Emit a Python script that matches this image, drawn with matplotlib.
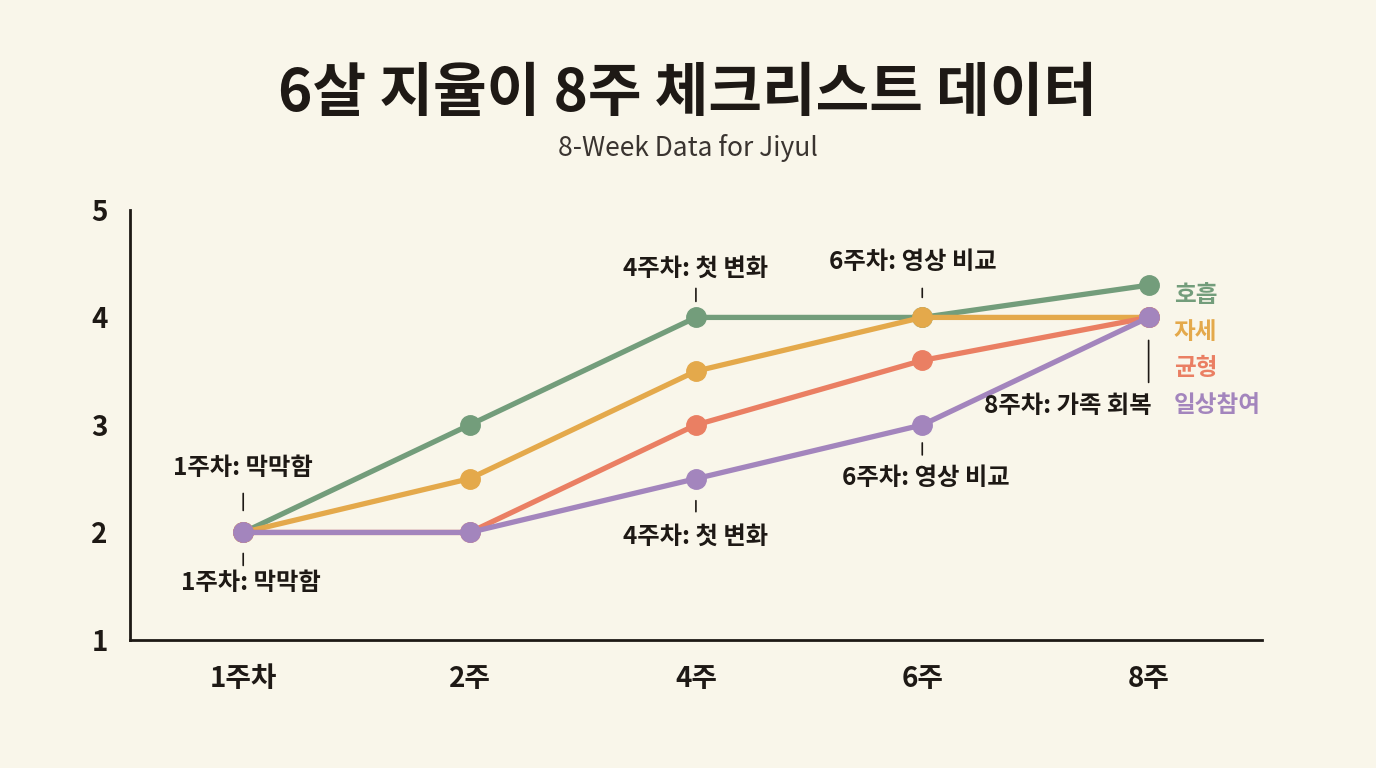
import matplotlib
matplotlib.use("Agg")
import matplotlib.pyplot as plt

plt.rcParams['font.family'] = ['Noto Sans CJK KR', 'DejaVu Sans']

weeks = ["1주차", "2주", "4주", "6주", "8주"]
series_names = ["호흡", "자세", "균형", "일상참여"]
breathing = [2, 3, 4, 4, 4.3]
posture = [2, 2.5, 3.5, 4, 4]
balance = [2, 2, 3, 3.6, 4]
daily = [2, 2, 2.5, 3, 4]
colors = ["#739d7b", "#e4a94b", "#ea7f63", "#a385bd"]

# milestone notes: text, week index, value
note_texts = ["1주차: 막막함", "4주차: 첫 변화", "6주차: 영상 비교",
              "1주차: 막막함", "4주차: 첫 변화", "6주차: 영상 비교"]
note_week = [0, 2, 3, 0, 2, 3]
note_value = [2, 4, 4, 2, 2.5, 3]
# layout in pixels: text dx, text dy, line far end, gap to point
note_layout = [(0, 64, 39, 22), (0, 49, 29, 16), (-9, 55, 29, 20),
               (8, -51, -33, 21), (0, -58, -33, 22), (4, -53, -30, 18)]

bg = "#f9f6ea"
ink = "#1e1915"
PT = 0.72  # px -> pt at 100 dpi

fig = plt.figure(figsize=(13.76, 7.68), dpi=100, facecolor=bg)
ax = fig.add_axes([0.0945, 0.1667, 0.8225, 0.56])
ax.set_facecolor(bg)

x = list(range(len(weeks)))
for vals, c in zip([breathing, posture, balance, daily], colors):
    ax.plot(x, vals, color=c, lw=3.8, marker="o", markersize=14,
            solid_capstyle="round", zorder=3)

ax.set_xlim(-0.5, 4.5)
ax.set_ylim(1, 5)
ax.set_xticks(x)
ax.set_xticklabels(weeks)
ax.set_yticks([1, 2, 3, 4, 5])
ax.tick_params(length=0, labelsize=20, colors=ink)
ax.tick_params(axis="x", pad=18)
ax.tick_params(axis="y", pad=16)
for lab in ax.get_xticklabels() + ax.get_yticklabels():
    lab.set_fontweight("heavy")
for s in ["top", "right"]:
    ax.spines[s].set_visible(False)
for s in ["left", "bottom"]:
    ax.spines[s].set_color(ink)
    ax.spines[s].set_linewidth(2)

ln = dict(arrowstyle="-", color=ink, lw=1.2, shrinkA=0)
for t, i, v, (dx, dy, lend, gap) in zip(note_texts, note_week, note_value, note_layout):
    ax.annotate(t, xy=(i, v), xytext=(dx * PT, dy * PT), textcoords="offset points",
                fontsize=17.5, fontweight="heavy", color=ink, ha="center", va="center")
    ax.annotate("", xy=(i, v), xytext=(0, lend * PT), textcoords="offset points",
                arrowprops=dict(shrinkB=gap * PT, **ln))

# 8주차 note
ax.annotate("8주차: 가족 회복", xy=(4, 4), xytext=(3 * PT, -89 * PT), textcoords="offset points",
            fontsize=17.5, fontweight="heavy", color=ink, ha="right", va="center")
ax.annotate("", xy=(4, 4), xytext=(0, -65 * PT), textcoords="offset points",
            arrowprops=dict(shrinkB=23 * PT, **ln))

# series labels on the right
for k, (name, c) in enumerate(zip(series_names, colors)):
    ax.annotate(name, xy=(4, 4.3), xytext=(25 * PT, (-10 - k * 36.5) * PT),
                textcoords="offset points",
                fontsize=17, fontweight="heavy", color=c, ha="left", va="center")

fig.text(0.5, 0.878, "6살 지율이 8주 체크리스트 데이터", ha="center", va="center",
         fontsize=42, fontweight="heavy", color=ink)
fig.text(0.5, 0.807, "8-Week Data for Jiyul", ha="center", va="center",
         fontsize=19, color="#3a3430")

fig.savefig("out.png", dpi=100, facecolor=bg)
